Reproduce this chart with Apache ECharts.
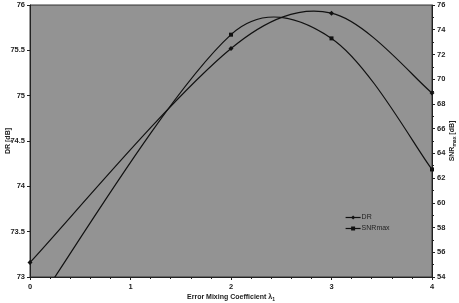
<!DOCTYPE html>
<html>
<head>
<meta charset="utf-8">
<script src="https://cdn.jsdelivr.net/npm/echarts@6/dist/echarts.min.js"></script>
<style>
html,body{margin:0;padding:0;background:#fff;}
#c{width:459px;height:303px;}
</style>
</head>
<body>
<div id="c"></div>
<script>
var xValues = [0, 2, 3, 4];
var drValues = [73.16, 75.52, 75.91, 75.03];
var snrValues = [51.0, 73.6, 73.3, 62.7];
var xTicks = [0, 1, 2, 3, 4];
var drTicks = [73, 73.5, 74, 74.5, 75, 75.5, 76];
var snrTicks = [54, 56, 58, 60, 62, 64, 66, 68, 70, 72, 74, 76];

var F = 'Liberation Sans, Arial, sans-serif';
var chart = echarts.init(document.getElementById('c'), null, {renderer: 'canvas'});
function pairs(xs, ys) { return xs.map(function (x, i) { return [x, ys[i]]; }); }

// Smooth curve (spreadsheet-style) through the data points, computed in pixel space
function smoothPath(pts) {
  var n = pts.length, d = 'M' + pts[0][0] + ' ' + pts[0][1];
  function dist(a, b) { return Math.sqrt((a[0]-b[0])*(a[0]-b[0]) + (a[1]-b[1])*(a[1]-b[1])); }
  function arm(i, out) {
    var p = pts[i];
    var prev = pts[Math.max(i - 1, 0)], next = pts[Math.min(i + 1, n - 1)];
    var vx = (next[0] - prev[0]) / 6, vy = (next[1] - prev[1]) / 6;
    var f = 1;
    if (i > 0 && i < n - 1) {
      var lp = dist(p, prev), ln = dist(p, next);
      f = Math.sqrt(2 * (out ? ln : lp) / (lp + ln));
    }
    return out ? [p[0] + vx * f, p[1] + vy * f] : [p[0] - vx * f, p[1] - vy * f];
  }
  for (var i = 0; i < n - 1; i++) {
    var c1 = arm(i, true), c2 = arm(i + 1, false), e = pts[i + 1];
    d += ' C' + c1[0] + ' ' + c1[1] + ' ' + c2[0] + ' ' + c2[1] + ' ' + e[0] + ' ' + e[1];
  }
  return d;
}
function curveSeries(name, axisIdx, ys) {
  return {
    name: name, type: 'custom', yAxisIndex: axisIdx, clip: true, silent: true, z: 2,
    data: pairs(xValues, ys),
    renderItem: function (params, api) {
      if (params.dataIndex !== 0) return null;
      var pts = xValues.map(function (x, i) { return api.coord([x, ys[i]]); });
      var cs = params.coordSys;
      return {
        type: 'group',
        clipPath: {type: 'rect', shape: {x: cs.x, y: cs.y, width: cs.width, height: cs.height}},
        children: [{
          type: 'path',
          shape: {pathData: smoothPath(pts)},
          style: {fill: null, stroke: '#111', lineWidth: 1.2}
        }]
      };
    }
  };
}
var lbl = {fontFamily: F, fontSize: 7.5, fontWeight: 'bold', color: '#222'};
chart.setOption({
  animation: false,
  grid: {left: 30, right: 27, top: 5, bottom: 26, containLabel: false, outerBoundsMode: 'none',
    show: true, backgroundColor: '#939393', borderColor: '#333', borderWidth: 1},
  legend: {
    orient: 'vertical', left: 340, top: 209, itemWidth: 15, itemHeight: 5, itemGap: 4,
    textStyle: {fontFamily: F, fontSize: 7, color: '#222', padding: [0,0,0,-4]},
    lineStyle: {color: '#111', width: 1.2, opacity: 1, type: 'solid'},
    data: ['DR', 'SNRmax']
  },
  xAxis: {
    type: 'value', min: xTicks[0], max: xTicks[xTicks.length - 1], interval: 1,
    name: '{a|Error Mixing Coefficient λ}{s|1}', nameLocation: 'middle', nameGap: 16, nameMoveOverlap: false,
    nameTextStyle: {rich: {a: {fontFamily: F, fontSize: 7, fontWeight: 'bold', color: '#222'}, s: {fontFamily: F, fontSize: 5, fontWeight: 'bold', color: '#222', padding: [4,0,0,0]}}},
    axisLine: {lineStyle: {color: '#222', width: 1}},
    axisTick: {length: 3, lineStyle: {color: '#222'}},
    minorTick: {show: true, splitNumber: 5, length: 2, lineStyle: {color: '#222'}},
    splitLine: {show: false},
    axisLabel: Object.assign({margin: 6}, lbl)
  },
  yAxis: [{
    type: 'value', min: drTicks[0], max: drTicks[drTicks.length - 1], interval: 0.5,
    name: 'DR [dB]', nameLocation: 'middle', nameGap: 18, nameMoveOverlap: false,
    nameTextStyle: {fontFamily: F, fontSize: 7, fontWeight: 'bold', color: '#222'},
    axisLine: {show: true, lineStyle: {color: '#222'}},
    axisTick: {show: true, length: 3, lineStyle: {color: '#222'}},
    splitLine: {show: false},
    axisLabel: Object.assign({margin: 5}, lbl)
  }, {
    type: 'value', min: snrTicks[0], max: snrTicks[snrTicks.length - 1], interval: 2,
    name: '{a|SNR}{s|max}{a| [dB]}', nameLocation: 'middle', nameGap: 16, nameMoveOverlap: false,
    nameTextStyle: {rich: {a: {fontFamily: F, fontSize: 7, fontWeight: 'bold', color: '#222'}, s: {fontFamily: F, fontSize: 5, fontWeight: 'bold', color: '#222', padding: [4,0,0,0]}}},
    axisLine: {show: true, lineStyle: {color: '#222'}},
    axisTick: {show: true, length: 3, lineStyle: {color: '#222'}},
    minorTick: {show: true, splitNumber: 2, length: 2, lineStyle: {color: '#222'}},
    splitLine: {show: false},
    axisLabel: Object.assign({margin: 5}, lbl)
  }],
  series: [
    curveSeries('DR curve', 0, drValues),
    curveSeries('SNRmax curve', 1, snrValues),
    {
      name: 'DR', type: 'line', yAxisIndex: 0, z: 3,
      data: pairs(xValues, drValues),
      symbol: 'diamond', symbolSize: 5, showAllSymbol: true,
      lineStyle: {color: '#111', width: 1.2, opacity: 0}, itemStyle: {color: '#111'}
    }, {
      name: 'SNRmax', type: 'line', yAxisIndex: 1, z: 3, clip: true,
      data: pairs(xValues, snrValues),
      symbol: 'rect', symbolSize: 4, showAllSymbol: true,
      lineStyle: {color: '#111', width: 1.2, opacity: 0}, itemStyle: {color: '#111'}
    }
  ]
});
</script>
</body>
</html>
